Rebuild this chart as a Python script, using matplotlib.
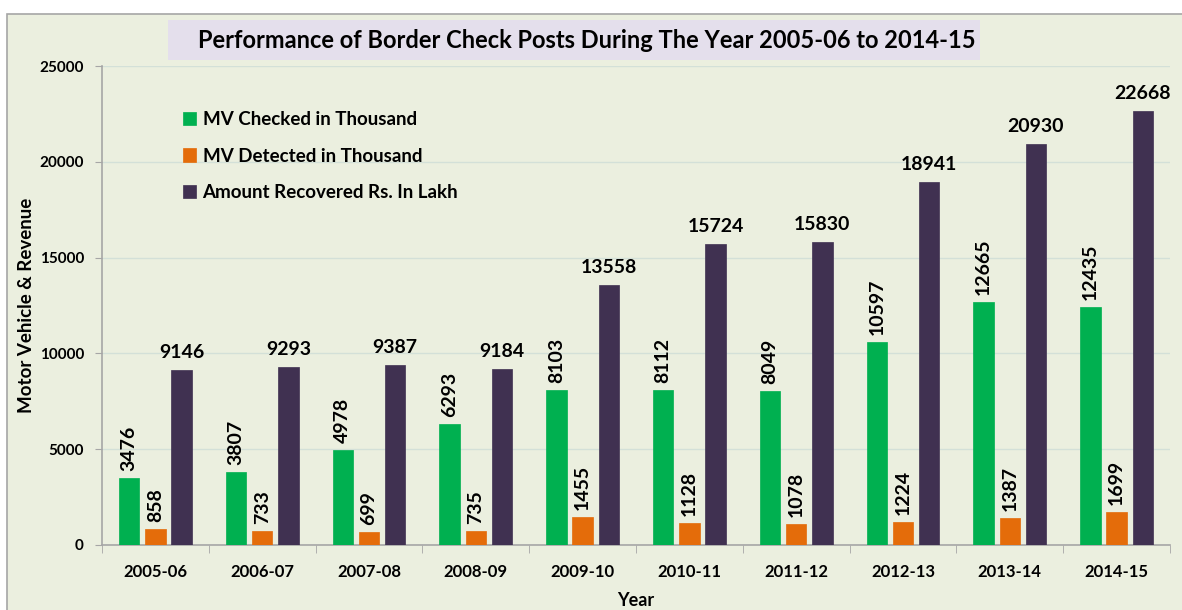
import numpy as np
import matplotlib.pyplot as plt
from matplotlib.patches import Rectangle

years = ["2005-06", "2006-07", "2007-08", "2008-09", "2009-10",
         "2010-11", "2011-12", "2012-13", "2013-14", "2014-15"]
mv_checked = [3476, 3807, 4978, 6293, 8103, 8112, 8049, 10597, 12665, 12435]
mv_detected = [858, 733, 699, 735, 1455, 1128, 1078, 1224, 1387, 1699]
amount_recovered = [9146, 9293, 9387, 9184, 13558, 15724, 15830, 18941, 20930, 22668]

plt.rcParams['font.family'] = ['Lato', 'DejaVu Sans']
plt.rcParams['font.weight'] = 'bold'

W, H = 1182, 610
fig = plt.figure(figsize=(W / 100, H / 100), dpi=100)
fig.patch.set_facecolor('white')

# chart panel background
fig.patches.append(Rectangle((7 / W, -0.01), 1.1, (H - 14) / H + 0.01,
                             transform=fig.transFigure, facecolor='#EBEFDF',
                             edgecolor='#A6A6A6', linewidth=1.2, zorder=-3))
# title box
fig.patches.append(Rectangle((168 / W, (H - 60) / H), (980 - 168) / W, 40 / H,
                             transform=fig.transFigure, facecolor='#E4DFEC',
                             edgecolor='none', zorder=-2))
fig.text(587 / W, (H - 41) / H,
         "Performance of Border Check Posts During The Year 2005-06 to 2014-15",
         ha='center', va='center', fontsize=17, fontweight='bold', zorder=2)

ax = fig.add_axes([102 / W, 65 / H, (1170 - 102) / W, (545 - 66) / H])
ax.set_facecolor('none')

x = np.arange(len(years))
w = 0.19
off = 0.245
colors = ['#00B050', '#E46C0A', '#403151']
series = [mv_checked, mv_detected, amount_recovered]
names = ["MV Checked in Thousand", "MV Detected in Thousand", "Amount Recovered Rs. In Lakh"]

for i, (vals, c, n) in enumerate(zip(series, colors, names)):
    pos = x + (i - 1) * off
    ax.bar(pos, vals, width=w, color=c, edgecolor=c, linewidth=0.5, label=n, zorder=3)
    for px, v in zip(pos, vals):
        if i < 2:
            ax.annotate(str(v), (px, v), xytext=(0, 7), textcoords='offset pixels',
                        rotation=90, ha='center', va='bottom', fontsize=14,
                        fontweight='bold')
        else:
            ax.annotate(str(v), (px, v), xytext=(0, 9), textcoords='offset pixels',
                        ha='center', va='bottom', fontsize=14, fontweight='bold')

ax.set_xlim(-0.5, len(years) - 0.5)
ax.set_ylim(0, 25000)
ax.set_yticks(np.arange(0, 25001, 5000))
ax.set_xticks(x)
ax.set_xticklabels(years, fontsize=12, fontweight='bold')
ax.set_xticks(np.arange(-0.5, len(years)), minor=True)
ax.tick_params(axis='x', which='major', length=0, pad=14)
ax.tick_params(axis='x', which='minor', length=6, color='#A6A6A6', direction='out')
ax.tick_params(axis='y', length=5, color='#A6A6A6', labelsize=11, pad=8)
for lbl in ax.get_yticklabels():
    lbl.set_fontweight('bold')

ax.grid(axis='y', color='#D3E0D8', linewidth=1, zorder=0)
ax.set_axisbelow(True)
for s in ['top', 'right']:
    ax.spines[s].set_visible(False)
for s in ['left', 'bottom']:
    ax.spines[s].set_color('#A6A6A6')
    ax.spines[s].set_linewidth(1.2)

ax.set_xlabel("Year", fontsize=13, fontweight='bold', labelpad=8)
ax.set_ylabel("Motor Vehicle & Revenue", fontsize=13.5, fontweight='bold', labelpad=3)

ax.legend(loc='upper left', bbox_to_anchor=(166 / W, (H - 94) / H),
          bbox_transform=fig.transFigure, frameon=False,
          handlelength=0.7, handleheight=0.7, handletextpad=0.35,
          labelspacing=1.05, prop={'weight': 'bold', 'size': 13.5})

fig.savefig('out.png', dpi=100)
